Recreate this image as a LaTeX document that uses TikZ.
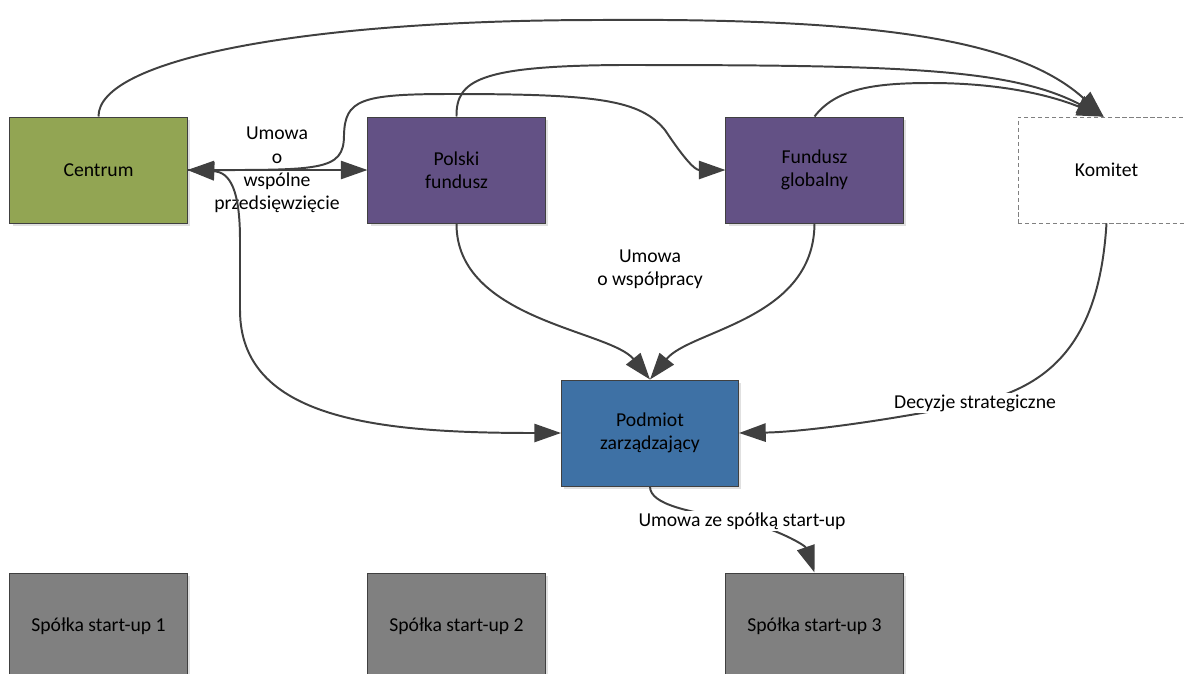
\documentclass[tikz,border=0pt]{standalone}
\usepackage{fontspec}
\setmainfont{Carlito}
\usetikzlibrary{arrows.meta,shadows}
\definecolor{centrumgreen}{RGB}{146,165,83}
\definecolor{fundviolet}{RGB}{99,81,133}
\definecolor{podmiotblue}{RGB}{62,113,165}
\definecolor{spolkagray}{RGB}{128,128,128}
\definecolor{linegray}{RGB}{64,64,64}

\begin{document}
\begin{tikzpicture}[x=0.025cm, y=-0.025cm,
    font=\fontsize{14}{16.6}\selectfont,
    >={Triangle[length=19pt, width=13pt]},
    boxbase/.style={minimum width=4.425cm, minimum height=2.65cm, align=center, inner sep=2pt},
    box/.style={boxbase, draw=linegray, line width=0.7pt,
        drop shadow={shadow xshift=2pt, shadow yshift=-2pt, fill=black!12, opacity=1}},
    conn/.style={draw=linegray, line width=1.4pt},
    lbl/.style={align=center, inner sep=1pt}]
    \useasboundingbox (0,0) rectangle (1186,673);

    % boxes
    \node[box, fill=centrumgreen] (centrum) at (98.5,170) {Centrum};
    \node[box, fill=fundviolet] (polski) at (456.5,170) {Polski\\fundusz};
    \node[box, fill=fundviolet] (globalny) at (814.5,170) {Fundusz\\globalny};
    \node[boxbase, draw=spolkagray, dash pattern=on 3pt off 2pt, fill=white] (komitet) at (1106.5,170) {Komitet};
    \node[box, fill=podmiotblue] (podmiot) at (650,433) {Podmiot\\zarządzający};
    \node[box, fill=spolkagray] (start1) at (98.5,626) {Spółka start-up 1};
    \node[box, fill=spolkagray] (start2) at (456.5,626) {Spółka start-up 2};
    \node[box, fill=spolkagray] (start3) at (814.5,626) {Spółka start-up 3};

    % labels
    \node[lbl] (wspolne) at (277,170) {Umowa\\o\\wspólne\\przedsięwzięcie};
    \node[lbl] (wspolpraca) at (650,269) {Umowa\\o współpracy};

    % to Komitet
    \draw[conn, ->] (centrum.north) .. controls (98,60) and (300,20) .. (600,20)
        .. controls (880,18) and (1020,40) .. (komitet.93);
    \draw[conn, ->] (polski.north) .. controls (456,80) and (480,66) .. (620,65)
        .. controls (900,65) and (1010,68) .. (komitet.93);
    \draw[conn, ->] (globalny.north) .. controls (835,90) and (870,83) .. (930,83)
        .. controls (1000,83) and (1050,95) .. (komitet.93);

    % joint venture
    \draw[conn, <->] (centrum.east) -- (polski.west);
    \draw[conn, ->] (centrum.east) .. controls (320,170) and (344,172) .. (344,135)
        .. controls (345,100) and (360,94) .. (450,94)
        .. controls (600,94) and (640,100) .. (665,130)
        .. controls (685,160) and (695,170) .. (globalny.west);
    \draw[conn, <->] (centrum.east) .. controls (230,172) and (240,190) .. (240,240)
        -- (240,310) .. controls (240,420) and (380,433) .. (podmiot.west);

    % to Podmiot
    \draw[conn, ->] (polski.south) .. controls (456,320) and (610,330) .. (podmiot.north);
    \draw[conn, ->] (globalny.south) .. controls (814,320) and (690,330) .. (podmiot.north);
    \draw[conn, ->] (komitet.south) .. controls (1100,330) and (1060,385) .. (975,403)
        node[lbl, fill=white] {Decyzje strategiczne}
        .. controls (880,422) and (800,432) .. (podmiot.east);

    % to start-up
    \draw[conn, ->] (podmiot.south) .. controls (650,505) and (690,512) .. (742,521)
        node[lbl, fill=white] {Umowa ze spółką start-up}
        .. controls (775,528) and (805,545) .. (start3.north);
\end{tikzpicture}
\end{document}
